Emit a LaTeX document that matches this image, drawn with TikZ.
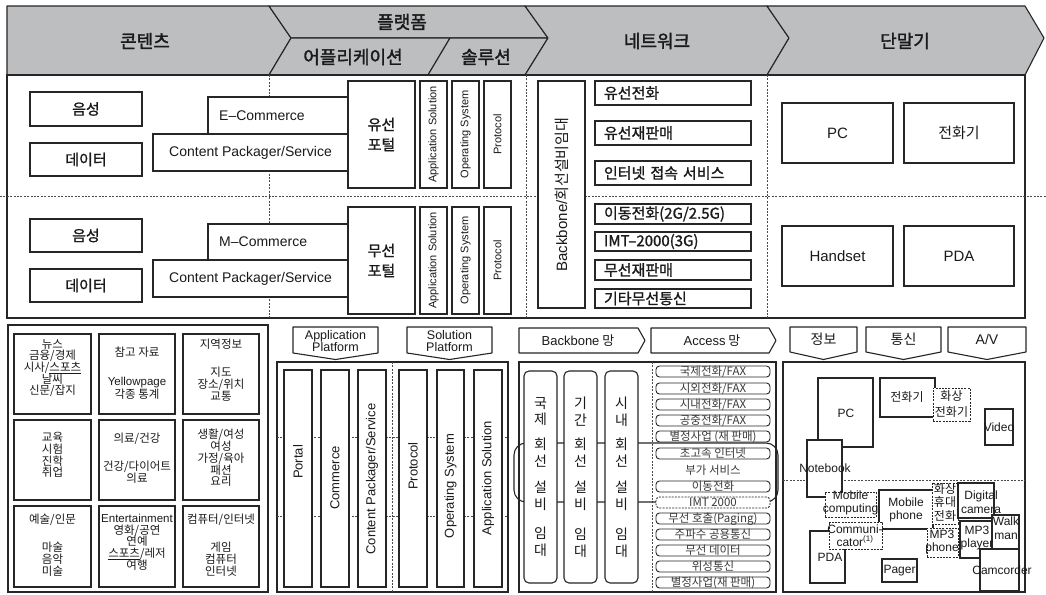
\documentclass[tikz,border=0pt]{standalone}
\usepackage{fontspec}
\setmainfont{Noto Sans CJK KR}
\newfontfamily\krm{Noto Sans CJK KR}[FakeBold=1.2]
\newfontfamily\krh{Noto Sans CJK KR}[FakeBold=1.8]
\newfontfamily\lat{Liberation Sans}
\definecolor{hdr}{HTML}{BDBEC0}
\definecolor{ln}{HTML}{262626}
\definecolor{tx}{HTML}{1A1A1A}
\definecolor{dsh}{HTML}{4A4A4A}
\definecolor{itx}{HTML}{3A3A3A}
\tikzset{
  hdrs/.style={fill=hdr,draw=ln,line width=1.1pt,line join=round},
  frm/.style={draw=ln,line width=1.1pt},
  sep/.style={draw=dsh,line width=0.8pt,dash pattern=on 2pt off 1.4pt},
  bx/.style={draw=ln,line width=1.1pt,fill=white,inner sep=0pt,align=center,text=tx},
  dbx/.style={bx,line width=0.9pt,dash pattern=on 2pt off 1.2pt},
  hd/.style={font=\fontsize{18}{20}\selectfont\krh,text=tx,inner sep=0pt},
  kb/.style={font=\fontsize{15}{20}\selectfont\krm},
  la/.style={font=\fontsize{14}{16}\selectfont\lat,text=tx,inner sep=0pt},
  rt/.style={rotate=90,font=\fontsize{11}{13}\selectfont\lat,text=tx,inner sep=0pt},
  rtb/.style={rotate=90,font=\fontsize{13}{15}\selectfont\lat,text=tx,inner sep=0pt},
  ni/.style={align=left,text width=138pt,font=\fontsize{15}{17}\selectfont\krm},
  cell/.style={font=\fontsize{11.5}{11.7}\selectfont,text=tx,align=center,inner sep=0pt},
  acc/.style={bx,rounded corners=3.5pt,line width=0.9pt,font=\fontsize{11.5}{12}\selectfont,text=itx,text height=8.6pt,text depth=1.6pt},
  kcol/.style={font=\fontsize{14}{16.8}\selectfont,text=tx,align=center,inner sep=0pt},
  tm/.style={font=\fontsize{12}{13.5}\selectfont\lat,text=tx,align=center,inner sep=0pt},
  tk/.style={font=\fontsize{12}{16}\selectfont,text=tx,align=center,inner sep=0pt},
  pent/.style={draw=ln,line width=1.1pt,fill=white,line join=round},
}
\newcommand{\bx}[7][]{\node[bx,minimum width={(#5-#3)*1pt},minimum height={(#6-#4)*1pt},#1] (#2) at ({(#3+#5)/2},{(#4+#6)/2}) {#7};}
\begin{document}
\begin{tikzpicture}[x=1pt,y=-1pt]
\useasboundingbox (0,0) rectangle (1046,594);
% ---------- header ----------
\draw[hdrs] (7,6) -- (269,6) -- (291,38) -- (269,75) -- (7,75) -- cycle;
\draw[hdrs] (269,6) -- (525,6) -- (548,38) -- (291,38) -- cycle;
\draw[hdrs] (291,38) -- (450,38) -- (428,75) -- (269,75) -- cycle;
\draw[hdrs] (450,38) -- (548,38) -- (525,75) -- (428,75) -- cycle;
\draw[hdrs] (525,6) -- (767,6) -- (789,38) -- (767,75) -- (525,75) -- (548,38) -- cycle;
\draw[hdrs] (767,6) -- (1025,6) -- (1044,38) -- (1025,75) -- (767,75) -- (789,38) -- cycle;
\node[hd] (hcon) at (145,41) {콘텐츠};
\node[hd] (hplat) at (402,22) {플랫폼};
\node[hd] (happ) at (353,57) {어플리케이션};
\node[hd] (hsol) at (486,57) {솔루션};
\node[hd] (hnet) at (657,41) {네트워크};
\node[hd] (hterm) at (905,41) {단말기};
% ---------- top section ----------
\draw[frm] (7,75) rectangle (1025,318);
\draw[sep] (269,75) -- (269,318);
\draw[sep] (526,75) -- (526,318);
\draw[sep] (767,75) -- (767,318);
\draw[sep] (0,196) -- (1046,196);
% contents
\bx[kb]{v1}{30}{92}{142}{126}{음성}
\bx[kb]{d1}{30}{143}{142}{176}{데이터}
\bx[kb]{v2}{30}{219}{142}{252}{음성}
\bx[kb]{d2}{30}{269}{142}{302}{데이터}
% platform wired
\bx{ec}{208}{97}{348}{134}{}
\node[la,anchor=west] (ect) at (219,115.5) {E–Commerce};
\bx[la]{cp1}{153}{134}{348}{171}{Content Packager/Service}
\bx[kb]{wp}{348}{81}{415}{188}{유선\\포털}
\bx{as1}{420}{81}{447}{188}{}
\bx{os1}{452}{81}{479}{188}{}
\bx{pr1}{484}{81}{511}{188}{}
\node[rt] (as1t) at (as1) {Application Solution};
\node[rt] (os1t) at (os1) {Operating System};
\node[rt] (pr1t) at (pr1) {Protocol};
% platform wireless
\bx{mc}{208}{224}{348}{260}{}
\node[la,anchor=west] (mct) at (219,242) {M–Commerce};
\bx[la]{cp2}{153}{260}{348}{297}{Content Packager/Service}
\bx[kb]{mp}{348}{207}{415}{314}{무선\\포털}
\bx{as2}{420}{207}{447}{314}{}
\bx{os2}{452}{207}{479}{314}{}
\bx{pr2}{484}{207}{511}{314}{}
\node[rt] (as2t) at (as2) {Application Solution};
\node[rt] (os2t) at (os2) {Operating System};
\node[rt] (pr2t) at (pr2) {Protocol};
% network
\bx{bb}{538}{81}{585}{308}{}
\node[rotate=90,font=\fontsize{15}{17}\selectfont,text=tx,inner sep=0pt] (bbt) at (bb) {{\lat Backbone/}회선설비임대};
\bx[ni]{n1}{595}{81}{751}{105}{유선전화}
\bx[ni]{n2}{595}{121}{751}{145}{유선재판매}
\bx[ni]{n3}{595}{161}{751}{185}{인터넷 접속 서비스}
\bx[ni]{n4}{595}{204}{751}{224}{이동전화(2G/2.5G)}
\bx[ni]{n5}{595}{232}{751}{251}{IMT–2000(3G)}
\bx[ni]{n6}{595}{260}{751}{280}{무선재판매}
\bx[ni]{n7}{595}{289}{751}{308}{기타무선통신}
% terminals
\bx[font=\fontsize{15}{17}\selectfont\lat]{pc}{782}{103}{893}{163}{PC}
\bx[font=\fontsize{15}{17}\selectfont]{tel}{904}{103}{1014}{163}{전화기}
\bx[font=\fontsize{15}{17}\selectfont\lat]{hs}{782}{226}{893}{286}{Handset}
\bx[font=\fontsize{15}{17}\selectfont\lat]{pda}{904}{226}{1014}{286}{PDA}
% ---------- bottom left: contents grid ----------
\bx{bl}{8}{325}{268}{592}{}
\bx{c11}{14}{334}{91}{414}{}
\bx{c12}{99}{334}{175}{414}{}
\bx{c13}{183}{334}{259}{414}{}
\bx{c21}{14}{420}{91}{500}{}
\bx{c22}{99}{420}{175}{500}{}
\bx{c23}{183}{420}{259}{500}{}
\bx{c31}{14}{506}{91}{587}{}
\bx{c32}{99}{506}{175}{587}{}
\bx{c33}{183}{506}{259}{587}{}
\node[cell] (t11) at (52.5,368) {뉴스\\금융/경제\\시사/\underline{스포츠}\\날씨\\신문/잡지};
\node[cell] (t12) at (137,373) {참고 자료\\[17pt]{\lat Yellowpage}\\각종 통계};
\node[cell] (t13) at (221,370) {지역정보\\[16.5pt]지도\\장소/위치\\교통};
\node[cell] (t21) at (52.5,455) {교육\\시험\\진학\\취업};
\node[cell] (t22) at (137,458) {의료/건강\\[17pt]건강/다이어트\\의료};
\node[cell] (t23) at (221,458) {생활/여성\\여성\\가정/육아\\패션\\요리};
\node[cell] (t31) at (52.5,545) {예술/인문\\[16.5pt]마술\\음악\\미술};
\node[cell] (t32) at (137,542) {{\lat Entertainment}\\영화/공연\\연예\\\underline{스포츠}/레저\\여행};
\node[cell] (t33) at (221,545) {컴퓨터/인터넷\\[16.5pt]게임\\컴퓨터\\인터넷};
% ---------- bottom middle: platforms ----------
\draw[pent] (293,327) -- (378,327) -- (378,353) -- (335.5,359.5) -- (293,353) -- cycle;
\node[tm,font=\fontsize{12.5}{11.7}\selectfont\lat] (apl) at (335.5,341) {Application\\Platform};
\draw[pent] (407,327) -- (492,327) -- (492,353) -- (449.5,359.5) -- (407,353) -- cycle;
\node[tm,font=\fontsize{12.5}{11.7}\selectfont\lat] (spl) at (449.5,341) {Solution\\Platform};
\bx{bm}{277}{362}{508}{592}{}
\draw[sep] (392,362) -- (392,592);
\draw[sep] (277,437) -- (508,437);
\draw[sep] (277,516) -- (508,516);
\bx{pp}{284}{370}{312}{587}{}
\bx{pcm}{321}{370}{349}{587}{}
\bx{pcp}{358}{370}{386}{587}{}
\bx{ppr}{399}{370}{427}{587}{}
\bx{pos}{437}{370}{464}{587}{}
\bx{pas}{474}{370}{502}{587}{}
\node[rtb] (ppt) at (298,462) {Portal};
\node[rtb] (pcmt) at (335,478) {Commerce};
\node[rtb] (pcpt) at (372,479) {Content Packager/Service};
\node[rtb] (pprt) at (413,466) {Protocol};
\node[rtb] (post) at (450.5,486) {Operating System};
\node[rtb] (past) at (488,478) {Application Solution};
% ---------- bottom: network ----------
\draw[pent] (519,328) -- (638,328) -- (645,340.5) -- (638,353) -- (519,353) -- cycle;
\node[tm,font=\fontsize{13}{15}\selectfont] (bbn) at (578,340.5) {{\lat Backbone} 망};
\draw[pent] (651,328) -- (769,328) -- (776,340.5) -- (769,353) -- (651,353) -- cycle;
\node[tm,font=\fontsize{13}{15}\selectfont] (acn) at (712,340.5) {{\lat Access} 망};
\bx{bn}{519}{362}{776}{592}{}
\draw[sep] (652,362) -- (652,592);
\draw[frm,rounded corners=12pt] (514,443) rectangle (778,502);
\bx[rounded corners=5pt]{k1}{524}{371}{557}{583}{}
\bx[rounded corners=5pt]{k2}{564}{371}{597}{583}{}
\bx[rounded corners=5pt]{k3}{605}{371}{638}{583}{}
\node[kcol] (k1t) at (540.5,477) {국\\제\\[7.5pt]회\\선\\[9.5pt]설\\비\\[13pt]임\\대};
\node[kcol] (k2t) at (580.5,477) {기\\간\\[7.5pt]회\\선\\[9.5pt]설\\비\\[13pt]임\\대};
\node[kcol] (k3t) at (621.5,477) {시\\내\\[7.5pt]회\\선\\[9.5pt]설\\비\\[13pt]임\\대};
\bx[acc]{a1}{656}{366}{770}{377}{국제전화/FAX}
\bx[acc]{a2}{656}{383}{770}{394}{시외전화/FAX}
\bx[acc]{a3}{656}{399}{770}{410}{시내전화/FAX}
\bx[acc]{a4}{656}{415}{770}{426}{공중전화/FAX}
\bx[acc]{a5}{656}{431}{770}{442}{별정사업 (재 판매)}
\bx[acc]{a6}{656}{448}{770}{459}{초고속 인터넷}
\node[font=\fontsize{11.5}{12}\selectfont,text=itx,inner sep=0pt] (a7) at (713,470) {부가 서비스};
\bx[acc]{a8}{656}{481}{770}{492}{이동전화}
\bx[acc,dash pattern=on 2pt off 1.2pt]{a9}{656}{497}{770}{508}{IMT 2000}
\bx[acc]{a10}{656}{513}{770}{524}{무선 호출(Paging)}
\bx[acc]{a11}{656}{529}{770}{540}{주파수 공용통신}
\bx[acc]{a12}{656}{545}{770}{556}{무선 데이터}
\bx[acc]{a13}{656}{561}{770}{572}{위성통신}
\bx[acc]{a14}{656}{577}{770}{588}{별정사업(재 판매)}
% ---------- bottom right: terminals ----------
\draw[pent] (790,327) -- (857,327) -- (857,352) -- (823.5,359.5) -- (790,352) -- cycle;
\node[tk,font=\fontsize{14}{16}\selectfont] (tinf) at (823.5,339) {정보};
\draw[pent] (866,327) -- (941,327) -- (941,352) -- (903.5,359.5) -- (866,352) -- cycle;
\node[tk,font=\fontsize{14}{16}\selectfont] (tcomm) at (903.5,339) {통신};
\draw[pent] (948,327) -- (1026,327) -- (1026,352) -- (987,359.5) -- (948,352) -- cycle;
\node[tm,font=\fontsize{14}{16}\selectfont\lat] (tav) at (987,339) {A/V};
\bx{br}{783}{362}{1025}{592}{}
\draw[sep] (783,480) -- (1025,480);
\bx{tpc}{818}{378}{873}{447}{}
\bx{tnb}{807}{440}{842}{497}{}
\bx{ttel}{880}{378}{935}{417}{}
\bx[dbx]{tvtel}{933}{388}{970}{421}{}
\bx{tvid}{985}{409}{1013}{445}{}
\bx{tmp}{879}{490}{933}{529}{}
\bx[dbx]{tmc}{825}{492}{876}{517}{}
\bx[dbx]{tvm}{932}{483}{958}{524}{}
\bx{tdc}{958}{483}{994}{518}{}
\bx{twm}{992}{515}{1019}{551}{}
\bx{tmp3}{960}{521}{992}{558}{}
\bx{tcam}{980}{549}{1019}{591}{}
\bx{tpda}{810}{531}{845}{583}{}
\bx[dbx]{tcom}{829}{522}{882}{549}{}
\bx[dbx]{tmph}{927}{528}{958}{557}{}
\bx{tpg}{882}{559}{917}{582}{}
\node[tm] (tpct) at (846,413) {PC};
\node[tm] (tnbt) at (825,468) {Notebook};
\node[tk] (ttelt) at (907,397.5) {전화기};
\node[tk] (tvtelt) at (951.5,404.5) {화상\\전화기};
\node[tm] (tvidt) at (999,427) {Video};
\node[tm] (tmct) at (850.5,503) {Mobile\\computing};
\node[tm] (tmpt) at (906,510) {Mobile\\phone};
\node[tk,font=\fontsize{12}{13.5}\selectfont] (tvmt) at (945,502) {화상\\휴대\\전화};
\node[tm] (tdct) at (981,502) {Digital\\camera};
\node[tm] (twmt) at (1006,528) {Walk\\man};
\node[tm] (tmp3t) at (977,538) {MP3\\player};
\node[tm] (tcamt) at (1002,570) {Camcorder};
\node[tm] (tpdat) at (830,557) {PDA};
\node[tm,font=\fontsize{12}{12.7}\selectfont\lat] (tcomt) at (855,535.5) {Communi-\\cator\textsuperscript{(1)}};
\node[tm] (tmpht) at (942,542) {MP3\\phone};
\node[tm] (tpgt) at (899.5,570.5) {Pager};
\end{tikzpicture}
\end{document}
